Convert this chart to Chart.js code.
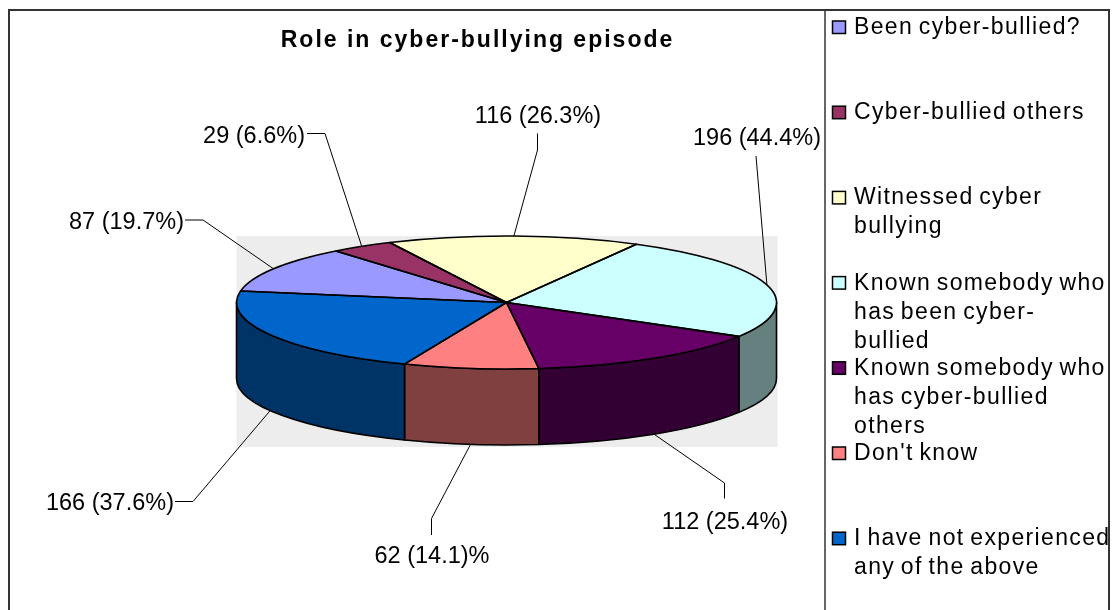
<!DOCTYPE html>
<html>
<head>
<meta charset="utf-8">
<title>Role in cyber-bullying episode</title>
<script src="https://cdn.jsdelivr.net/npm/chart.js@4.4.1/dist/chart.umd.min.js"></script>
<style>
  html, body { margin: 0; padding: 0; background: #fff; }
  #wrap { width: 1114px; height: 610px; }
</style>
</head>
<body>
<div id="wrap"><canvas id="pieChart" width="1114" height="610"></canvas></div>
<script>
const chartTitle = 'Role in cyber-bullying episode';

// legend entries, already broken into lines the way the legend wraps them
const categories = [
    ['Been cyber-bullied?'],
    ['Cyber-bullied others'],
    ['Witnessed cyber', 'bullying'],
    ['Known somebody who', 'has been cyber-', 'bullied'],
    ['Known somebody who', 'has cyber-bullied', 'others'],
    ["Don't know"],
    ['I have not experienced', 'any of the above']
];
const counts = [87, 29, 116, 196, 112, 62, 166];
const valueLabels = ['87 (19.7%)', '29 (6.6%)', '116 (26.3%)', '196 (44.4%)', '112 (25.4%)', '62 (14.1)%', '166 (37.6%)'];
const sliceColors = ['#9999FF', '#993366', '#FFFFCC', '#CCFFFF', '#660066', '#FF8080', '#0066CC'];

// 3d look
const TILT = 66.5 / 270;
const DEPTH = 76;

// where each data label sits: text anchor + bend points of the leader line
const labelLayout = [
    { x: 184, y: 228.5, align: 'right', path: [[185, 220], [203, 220]] },
    { x: 305, y: 143, align: 'right', path: [[307, 133.5], [325, 133.5]] },
    { x: 538, y: 123, align: 'center', path: [[537.5, 133.5], [537.5, 150]] },
    { x: 757, y: 145, align: 'center', path: [[756, 156]] },
    { x: 725, y: 529, align: 'center', path: [[724.5, 498.5], [724.5, 483]] },
    { x: 432, y: 562.5, align: 'center', path: [[431.5, 535], [431.5, 518.5]] },
    { x: 174, y: 510, align: 'right', path: [[175, 501.5], [193, 501.5]] }
];

function sideColor(hex) {
    const n = parseInt(hex.slice(1), 16);
    const r = Math.round((n >> 16) * 0.5);
    const g = Math.round(((n >> 8) & 255) * 0.5);
    const b = Math.round((n & 255) * 0.5);
    return `rgb(${r},${g},${b})`;
}

const pie3d = {
    id: 'pie3d',
    beforeDraw(chart) {
        const ctx = chart.ctx;
        const arc = chart.getDatasetMeta(0).data[0];
        const cx = arc.x, cy = arc.y, R = arc.outerRadius, RY = R * TILT;
        ctx.save();
        ctx.fillStyle = '#fff';
        ctx.fillRect(0, 0, chart.width, chart.height);
        ctx.fillStyle = '#EDEDED';
        ctx.fillRect(cx - R, cy - RY, 2 * R + 1, 2 * RY + DEPTH + 2);
        ctx.restore();
    },
    beforeDatasetsDraw(chart) {
        const ctx = chart.ctx;
        const meta = chart.getDatasetMeta(0);
        const first = meta.data[0];
        const cx = first.x, cy = first.y, R = first.outerRadius, RY = R * TILT;

        // side walls of the front half
        ctx.save();
        ctx.lineWidth = 1.6;
        ctx.lineJoin = 'round';
        ctx.strokeStyle = '#000';
        meta.data.forEach((arc, i) => {
            const s = arc.startAngle, e = arc.endAngle;
            for (let k = -1; k <= 2; k++) {
                const lo = Math.max(s, 2 * Math.PI * k);
                const hi = Math.min(e, 2 * Math.PI * k + Math.PI);
                if (hi <= lo) continue;
                ctx.beginPath();
                ctx.ellipse(cx, cy, R, RY, 0, lo, hi);
                ctx.lineTo(cx + R * Math.cos(hi), cy + DEPTH + RY * Math.sin(hi));
                ctx.ellipse(cx, cy + DEPTH, R, RY, 0, hi, lo, true);
                ctx.closePath();
                ctx.fillStyle = sideColor(sliceColors[i]);
                ctx.fill();
                ctx.stroke();
            }
        });
        ctx.restore();

        // squash the pie into an ellipse for the top face
        ctx.save();
        ctx.translate(0, cy);
        ctx.scale(1, TILT);
        ctx.translate(0, -cy);
    },
    afterDatasetsDraw(chart) {
        const ctx = chart.ctx;
        ctx.restore();
        const meta = chart.getDatasetMeta(0);
        const first = meta.data[0];
        const cx = first.x, cy = first.y, R = first.outerRadius, RY = R * TILT;

        ctx.save();
        ctx.lineWidth = 1.6;
        ctx.lineJoin = 'round';
        ctx.strokeStyle = '#000';
        meta.data.forEach(arc => {
            ctx.beginPath();
            ctx.moveTo(cx, cy);
            ctx.lineTo(cx + R * Math.cos(arc.startAngle), cy + RY * Math.sin(arc.startAngle));
            ctx.ellipse(cx, cy, R, RY, 0, arc.startAngle, arc.endAngle);
            ctx.closePath();
            ctx.stroke();
        });

        // data labels with leader lines
        ctx.lineWidth = 1;
        ctx.font = '23.5px "Liberation Sans", Arial, sans-serif';
        ctx.letterSpacing = '0px';
        ctx.fillStyle = '#000';
        ctx.textBaseline = 'alphabetic';
        meta.data.forEach((arc, i) => {
            const mid = (arc.startAngle + arc.endAngle) / 2;
            let ax = cx + R * Math.cos(mid);
            let ay = cy + RY * Math.sin(mid);
            if (Math.sin(mid) > 0) ay += DEPTH;
            const lay = labelLayout[i];
            ctx.beginPath();
            ctx.moveTo(lay.path[0][0], lay.path[0][1]);
            lay.path.slice(1).forEach(p => ctx.lineTo(p[0], p[1]));
            ctx.lineTo(ax, ay);
            ctx.stroke();
            ctx.textAlign = lay.align;
            ctx.fillText(valueLabels[i], lay.x, lay.y);
        });
        ctx.restore();
    },
    afterDraw(chart) {
        const ctx = chart.ctx;
        ctx.save();

        // title
        ctx.fillStyle = '#000';
        ctx.font = 'bold 23px "Liberation Sans", Arial, sans-serif';
        ctx.letterSpacing = '2px';
        ctx.textAlign = 'center';
        ctx.textBaseline = 'alphabetic';
        ctx.fillText(chartTitle, 477.5, 46.5);

        // legend
        ctx.font = '23px "Liberation Sans", Arial, sans-serif';
        ctx.letterSpacing = '1.35px';
        ctx.wordSpacing = '-2px';
        ctx.textAlign = 'left';
        chart.data.labels.forEach((lines, i) => {
            const base = 34 + i * 85.2;
            ctx.fillStyle = sliceColors[i];
            ctx.fillRect(832.5, base - 13, 13, 12.5);
            ctx.strokeStyle = '#000';
            ctx.lineWidth = 1.5;
            ctx.strokeRect(832.5, base - 13, 13, 12.5);
            ctx.fillStyle = '#000';
            lines.forEach((line, j) => ctx.fillText(line, 854, base + j * 29));
        });

        // frame
        ctx.strokeStyle = '#333';
        ctx.lineWidth = 2;
        ctx.strokeRect(9, 10, 1100, 700);
        ctx.lineWidth = 1.5;
        ctx.beginPath();
        ctx.moveTo(825, 10);
        ctx.lineTo(825, 610);
        ctx.stroke();
        ctx.restore();
    }
};

new Chart(document.getElementById('pieChart').getContext('2d'), {
    type: 'pie',
    data: {
        labels: categories,
        datasets: [{
            data: counts,
            backgroundColor: sliceColors,
            borderWidth: 0
        }]
    },
    options: {
        responsive: false,
        animation: false,
        events: [],
        rotation: 280,
        radius: 270,
        layout: { padding: { left: 236, right: 337, top: 32, bottom: 37 } },
        plugins: {
            legend: { display: false },
            title: { display: false },
            tooltip: { enabled: false }
        }
    },
    plugins: [pie3d]
});
</script>
</body>
</html>
